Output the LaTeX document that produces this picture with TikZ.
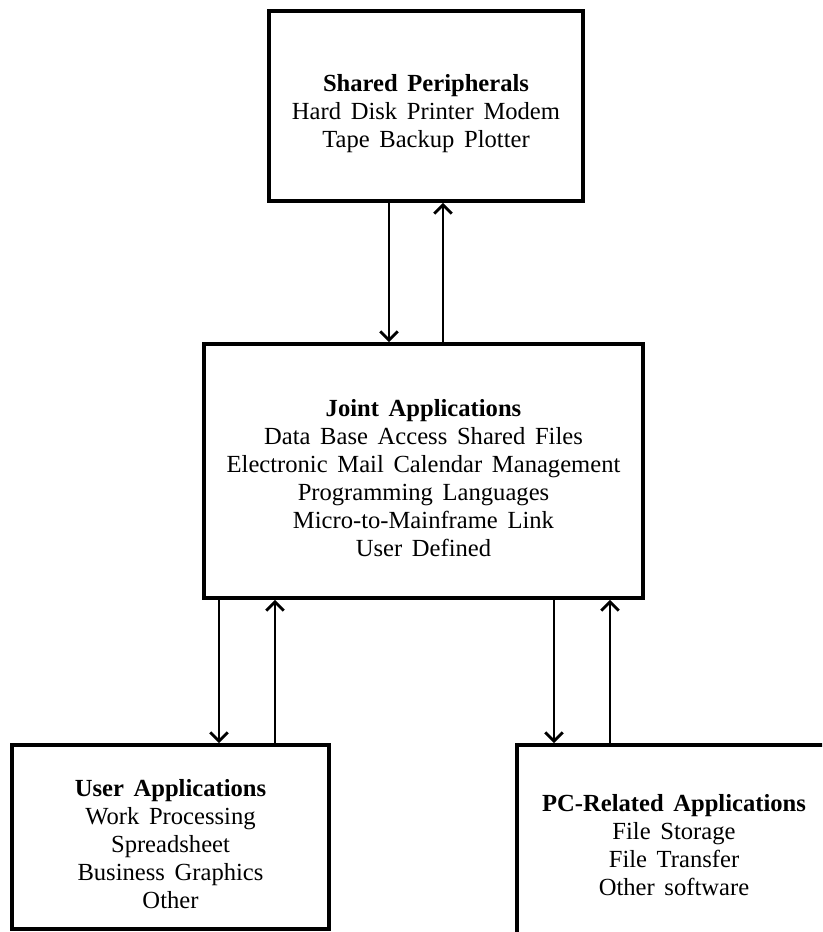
\documentclass[tikz,border=0pt]{standalone}
\usepackage{fontspec}
\setmainfont{Liberation Serif}
\usetikzlibrary{arrows.meta, positioning, calc}
\newcommand\boxfont{\fontsize{14}{16}\selectfont\spaceskip=5.5pt plus 1pt\relax}
\newcommand\tstrut{\rule{0pt}{18pt}}

\begin{document}
\begin{tikzpicture}[
        x=0.02cm, y=-0.02cm,
        box/.style = {rectangle, draw, line width=2.2pt, align=center, inner sep=0pt, font=\boxfont},
        line/.style = {->, line width=1.6pt},
        >={Straight Barb[length=5pt, width=10pt, line width=1.6pt]},
    ]
        \useasboundingbox (0,0) rectangle (822,932);
        \clip (0,0) rectangle (822,932);
        \node[box, minimum width=6.28cm, minimum height=3.8cm] (periph) at (426,106) {\tstrut\textbf{Shared Peripherals}\\
            Hard Disk Printer Modem\\
            Tape Backup Plotter};
        \node[box, minimum width=8.78cm, minimum height=5.08cm] (joint) at (423.5,471) {\tstrut\textbf{Joint Applications}\\
            Data Base Access Shared Files\\
            Electronic Mail Calendar Management\\
            Programming Languages\\
            Micro-to-Mainframe Link\\
            User Defined};
        \node[box, minimum width=6.34cm, minimum height=3.68cm] (user) at (170.5,837) {\tstrut\textbf{User Applications}\\
            Work Processing\\
            Spreadsheet\\
            Business Graphics\\
            Other};
        % runs past the lower edge of the picture
        \node[box, minimum width=6.28cm, minimum height=4cm] (pc) at (674,845) {\textbf{PC-Related Applications}\\
            File Storage\\
            File Transfer\\
            Other software};
        % points where the arrows leave or reach the boxes
        \coordinate (P1) at ($(periph.south)+(-37,0)$);
        \coordinate (P2) at ($(periph.south)+(17,0)$);
        \coordinate (U1) at ($(user.north)+(48.5,0)$);
        \coordinate (U2) at ($(user.north)+(104.5,0)$);
        \coordinate (C1) at ($(pc.north)+(-120,0)$);
        \coordinate (C2) at ($(pc.north)+(-64,0)$);

        \draw [line] (P1) -- (P1 |- joint.north);
        \draw [line] (P2 |- joint.north) -- (P2);
        \draw [line] (joint.south -| U1) -- (U1);
        \draw [line] (U2) -- (joint.south -| U2);
        \draw [line] (joint.south -| C1) -- (C1);
        \draw [line] (C2) -- (joint.south -| C2);
    \end{tikzpicture}
\end{document}
